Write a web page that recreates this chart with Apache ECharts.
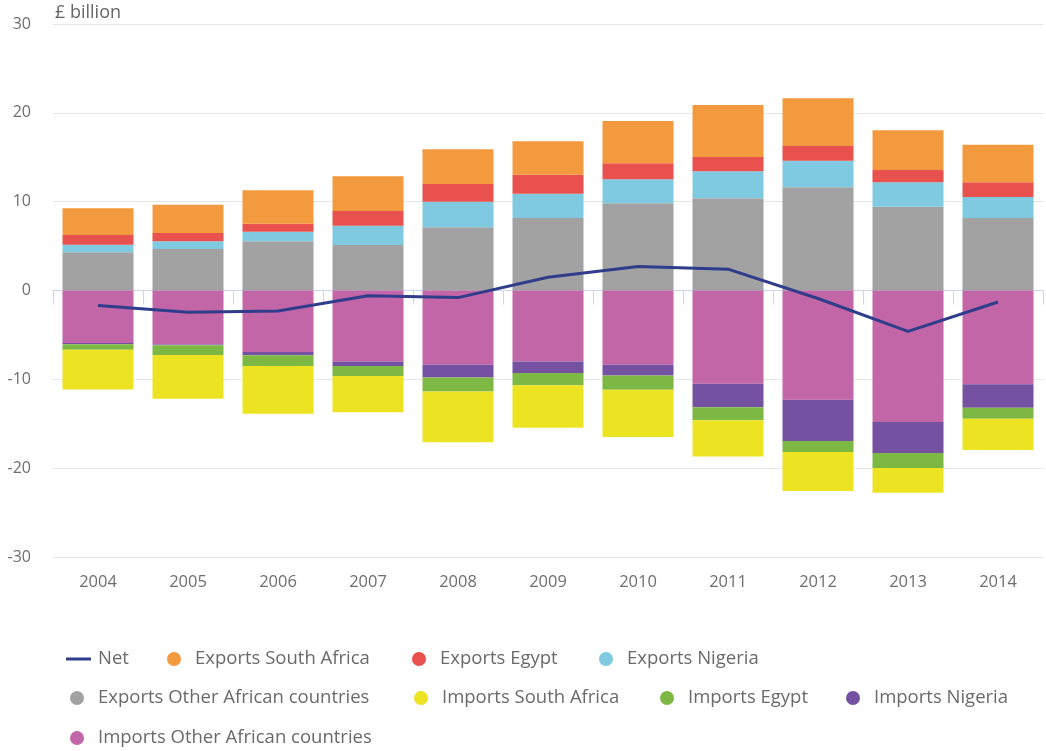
<!DOCTYPE html>
<html>
<head>
<meta charset="utf-8">
<script src="https://cdn.jsdelivr.net/npm/echarts@6/dist/echarts.min.js"></script>
<style>
html,body{margin:0;padding:0;background:#fff;}
#chart{width:1046px;height:751px;}
</style>
</head>
<body>
<div id="chart"></div>
<script>
var years = ['2004','2005','2006','2007','2008','2009','2010','2011','2012','2013','2014'];
var yTicks = [-30, -20, -10, 0, 10, 20, 30];

var exportsOther   = [4.30, 4.67, 5.54, 5.12, 7.12, 8.16, 9.82, 10.38, 11.62, 9.44, 8.16];
var exportsNigeria = [0.86, 0.87, 1.08, 2.18, 2.88, 2.74, 2.70, 3.04, 3.00, 2.74, 2.37];
var exportsEgypt   = [1.09, 0.94, 0.90, 1.65, 1.99, 2.14, 1.80, 1.61, 1.65, 1.39, 1.65];
var exportsSA      = [3.02, 3.18, 3.76, 3.91, 3.91, 3.76, 4.77, 5.86, 5.37, 4.47, 4.24];

var importsOther   = [-5.90, -6.07, -6.93, -7.98, -8.36, -7.98, -8.36, -10.50, -12.30, -14.80, -10.54];
var importsNigeria = [-0.15, -0.10, -0.37, -0.52, -1.43, -1.31, -1.20, -2.63, -4.65, -3.50, -2.67];
var importsEgypt   = [-0.63, -1.09, -1.20, -1.13, -1.58, -1.39, -1.61, -1.47, -1.24, -1.69, -1.23];
var importsSA      = [-4.47, -4.92, -5.37, -4.07, -5.70, -4.77, -5.33, -4.10, -4.39, -2.78, -3.52];

var net = [-1.7, -2.45, -2.3, -0.6, -0.8, 1.5, 2.7, 2.4, -0.9, -4.6, -1.3];

var FONT = '"Open Sans", sans-serif';
var colors = {
  'Net': '#2f3d8a',
  'Exports South Africa': '#f49a3e',
  'Exports Egypt': '#e8514d',
  'Exports Nigeria': '#7fcae0',
  'Exports Other African countries': '#a2a2a2',
  'Imports South Africa': '#ece323',
  'Imports Egypt': '#7cb843',
  'Imports Nigeria': '#7551a1',
  'Imports Other African countries': '#c366a8'
};

function bar(name, data) {
  return {
    name: name, type: 'bar', stack: 'total', data: data,
    barWidth: 71,
    itemStyle: { color: colors[name] },
    emphasis: { disabled: true }
  };
}

// legend items: [name, circle-center x (or line left), row center y]
var legendItems = [
  ['Net', 66, 659, 'line'],
  ['Exports South Africa', 174, 659],
  ['Exports Egypt', 419, 659],
  ['Exports Nigeria', 606, 659],
  ['Exports Other African countries', 77, 698],
  ['Imports South Africa', 421, 698],
  ['Imports Egypt', 667, 698],
  ['Imports Nigeria', 853, 698],
  ['Imports Other African countries', 77, 738]
];

var legends = legendItems.map(function (it) {
  var isLine = it[3] === 'line';
  return {
    data: [{ name: it[0], icon: isLine ? 'rect' : 'circle' }],
    left: isLine ? it[1] : it[1] - 7,
    top: it[2] - 11,
    padding: 0,
    itemWidth: isLine ? 25 : 14,
    itemHeight: isLine ? 3 : 14,
    itemGap: 0,
    selectedMode: false,
    textStyle: { fontFamily: FONT, fontSize: 18.5, color: '#6a6a6a', padding: [0, 0, 0, isLine ? 2 : 9], lineHeight: 22 }
  };
});

var option = {
  animation: false,
  backgroundColor: '#ffffff',
  legend: legends,
  grid: { left: 53, right: 3, top: 24, bottom: 194, containLabel: false },
  xAxis: {
    type: 'category',
    data: years,
    boundaryGap: true,
    axisLine: { show: true, lineStyle: { color: '#ccd6eb', width: 1 } },
    axisTick: { show: true, length: 14, lineStyle: { color: '#ccd6eb' } },
    axisLabel: { fontFamily: FONT, fontSize: 16.5, color: '#6e6e6e', margin: 17 },
    splitLine: { show: false }
  },
  yAxis: {
    type: 'value',
    min: yTicks[0], max: yTicks[yTicks.length - 1], interval: 10,
    name: '£ billion',
    nameLocation: 'end',
    nameGap: 2,
    nameTextStyle: { fontFamily: FONT, fontSize: 18, color: '#666666', align: 'left', padding: [0, 0, 0, 2] },
    axisLine: { show: false },
    axisTick: { show: false },
    axisLabel: { fontFamily: FONT, fontSize: 16, color: '#6e6e6e', margin: 22 },
    splitLine: { show: true, lineStyle: { color: '#e6e6e6', width: 1 } }
  },
  series: [
    bar('Exports Other African countries', exportsOther),
    bar('Exports Nigeria', exportsNigeria),
    bar('Exports Egypt', exportsEgypt),
    bar('Exports South Africa', exportsSA),
    bar('Imports Other African countries', importsOther),
    bar('Imports Nigeria', importsNigeria),
    bar('Imports Egypt', importsEgypt),
    bar('Imports South Africa', importsSA),
    {
      name: 'Net', type: 'line', data: net, z: 10,
      symbol: 'none', smooth: false,
      lineStyle: { color: colors['Net'], width: 3 },
      itemStyle: { color: colors['Net'] },
      emphasis: { disabled: true }
    }
  ]
};

var chart = echarts.init(document.getElementById('chart'), null, { renderer: 'canvas' });
chart.setOption(option);
</script>
</body>
</html>
